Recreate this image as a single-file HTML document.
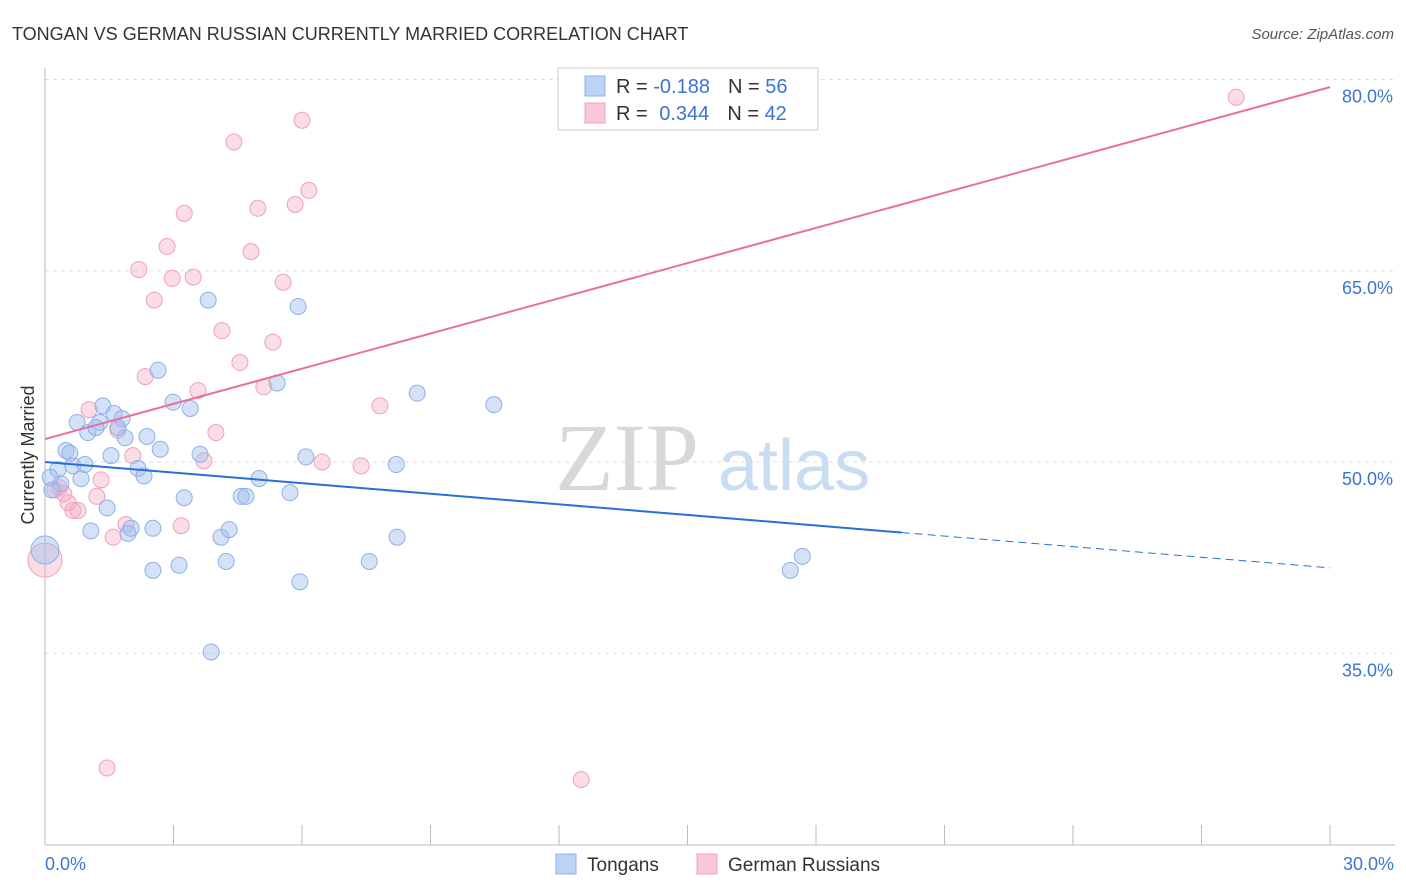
<!DOCTYPE html>
<html><head><meta charset="utf-8"><style>
body{margin:0;background:#fff;font-family:"Liberation Sans",sans-serif;}
#wrap{position:relative;width:1406px;height:892px;overflow:hidden;}
</style></head><body>
<div id="wrap">
<svg id="svg" width="1406" height="892" xmlns="http://www.w3.org/2000/svg">
<text x="12" y="40" font-size="18" fill="#333">TONGAN VS GERMAN RUSSIAN CURRENTLY MARRIED CORRELATION CHART</text>
<text x="1394" y="39" font-size="15" fill="#555" font-style="italic" text-anchor="end">Source: ZipAtlas.com</text>
<text x="34" y="455" font-size="18" fill="#333" text-anchor="middle" transform="rotate(-90 34 455)">Currently Married</text>
<g>
<text x="555" y="490" font-size="96" font-family="Liberation Serif,serif" fill="#d8d8d8">ZIP</text>
<text x="718" y="490" font-size="72" fill="#c8dcf2">atlas</text>
</g>
<g id="grid"></g><g id="axes"></g><g id="pts"></g><g id="lines"></g>
<g>
<rect x="558" y="68" width="260" height="62" fill="#fff" stroke="#ccc"/>
<rect x="585" y="76" width="20" height="20" fill="#bcd3f5" stroke="#8fb0e6"/>
<rect x="585" y="103" width="20" height="20" fill="#f9c8d8" stroke="#f0a0bc"/>
<text x="616" y="93" font-size="20" fill="#333">R = <tspan fill="#3a75d4">-0.188</tspan><tspan dx="18">N = </tspan><tspan fill="#3a75d4">56</tspan></text>
<text x="616" y="120" font-size="20" fill="#333">R = <tspan fill="#3a75d4" dx="6">0.344</tspan><tspan dx="18">N = </tspan><tspan fill="#3a75d4">42</tspan></text>
</g>
<g>
<rect x="556" y="854" width="20" height="20" fill="#bcd3f5" stroke="#8fb0e6"/>
<text x="587" y="871" font-size="19" fill="#333">Tongans</text>
<rect x="697" y="854" width="20" height="20" fill="#f9c8d8" stroke="#f0a0bc"/>
<text x="728" y="871" font-size="19" fill="#333">German Russians</text>
</g>
</svg>
</div>
<script>
const yTicks=[35,50,65,80];
const xTickVals=[0,3,6,9,12,15,18,21,24,27,30];
const xLabels=["0.0%","30.0%"];
const blueX=[0.75,1.0,1.35,1.28,1.61,1.8,1.19,1.87,0.49,0.58,0.3,0.65,0.93,0.84,0.37,0.16,1.54,2.17,2.31,2.38,2.69,2.64,2.99,3.39,3.81,5.91,5.42,3.62,5.0,4.58,4.69,5.72,6.09,3.25,1.45,1.07,1.94,2.01,2.52,4.11,4.3,2.52,3.13,4.23,5.95,7.57,8.22,8.2,8.69,10.48,3.88,17.4,17.68,0,1.7,0.12];
const blueY=[53.1,52.3,54.4,53.1,53.8,53.4,52.7,51.9,50.9,50.7,49.4,49.7,49.8,48.7,48.3,47.8,50.5,49.5,48.9,52.0,51.0,57.2,54.7,54.2,62.7,62.2,56.2,50.6,48.7,47.3,47.3,47.6,50.4,47.2,46.4,44.6,44.4,44.8,44.8,44.1,44.7,41.5,41.9,42.2,40.6,42.2,44.1,49.8,55.4,54.5,35.1,41.5,42.6,43.1,52.7,48.8];
const pinkX=[27.81,4.41,6.0,6.16,5.84,4.97,3.25,2.85,4.81,2.19,2.97,3.46,5.56,2.55,4.13,5.32,4.55,2.34,3.57,5.11,7.82,1.03,1.7,3.99,2.05,3.71,6.47,7.38,1.31,1.21,0.44,0.54,0.77,0.65,0.33,1.89,3.18,1.59,1.45,12.52,0,0.23];
const pinkY=[78.6,75.1,76.8,71.3,70.2,69.9,69.5,66.9,66.5,65.1,64.4,64.5,64.1,62.7,60.3,59.4,57.8,56.7,55.6,55.9,54.4,54.1,52.5,52.3,50.5,50.1,50.0,49.7,48.6,47.3,47.5,46.8,46.2,46.2,48.0,45.1,45.0,44.1,26.0,25.1,42.3,47.8];
const blueLine=[50.0,41.7];
const pinkLine=[51.8,79.4];
const blueSolidEnd=20.0;
const NS="http://www.w3.org/2000/svg";
const X=v=>45+v/30*1285;
const Y=v=>462-(v-50)*12.75;
function mk(tag,attrs,parent){const e=document.createElementNS(NS,tag);for(const k in attrs)e.setAttribute(k,attrs[k]);document.getElementById(parent).appendChild(e);return e;}
yTicks.forEach(t=>{
 const l=mk('line',{x1:45,x2:1395,y1:Y(t),y2:Y(t),stroke:'#ddd','stroke-dasharray':'4,4'},'grid');
 
 
 const tx=mk('text',{x:1393,y:Y(t)+23,'font-size':18,fill:'#3a75d4','text-anchor':'end'},'grid');
 tx.textContent=t.toFixed(1)+'%';
 
 
});
const ax=mk('line',{x1:45,x2:45,y1:68,y2:845,stroke:'#bbb'},'axes');


const bx=mk('line',{x1:45,x2:1395,y1:845,y2:845,stroke:'#bbb'},'axes');


xTickVals.forEach(v=>{
 const t=mk('line',{x1:X(v),x2:X(v),y1:825,y2:845,stroke:'#bbb'},'axes');
 
 
});
[[0,'start',45],[30,'end',1394]].forEach((a,i)=>{
 const t=mk('text',{x:a[2],y:870,'font-size':18,fill:'#3a75d4','text-anchor':a[1]},'axes');
 t.textContent=xLabels[i];
 
 
});
function dots(xs,ys,fill,stroke,name,bigR){
 xs.forEach((x,i)=>{
  const r=(x===0)?bigR:8;
  const c=mk('circle',{cx:X(x),cy:Y(ys[i]),r:r,fill:fill,stroke:stroke,'stroke-width':1},'pts');
  
  
 });
}
dots(pinkX,pinkY,'rgba(245,170,195,0.4)','#f0a0bc','point-german-russian',17);
dots(blueX,blueY,'rgba(160,190,240,0.45)','#8fb0e6','point-tongan',14);
const bl=v=>blueLine[0]+(blueLine[1]-blueLine[0])*v/30;
const pl=v=>pinkLine[0]+(pinkLine[1]-pinkLine[0])*v/30;
let e=mk('line',{x1:X(0),y1:Y(bl(0)),x2:X(blueSolidEnd),y2:Y(bl(blueSolidEnd)),stroke:'#2a6fd6','stroke-width':2},'lines');


e=mk('line',{x1:X(blueSolidEnd),y1:Y(bl(blueSolidEnd)),x2:X(30),y2:Y(bl(30)),stroke:'#2a6fd6','stroke-width':1,'stroke-dasharray':'8,5'},'lines');


e=mk('line',{x1:X(0),y1:Y(pl(0)),x2:X(30),y2:Y(pl(30)),stroke:'#e8709a','stroke-width':2},'lines');


</script>
</body></html>
